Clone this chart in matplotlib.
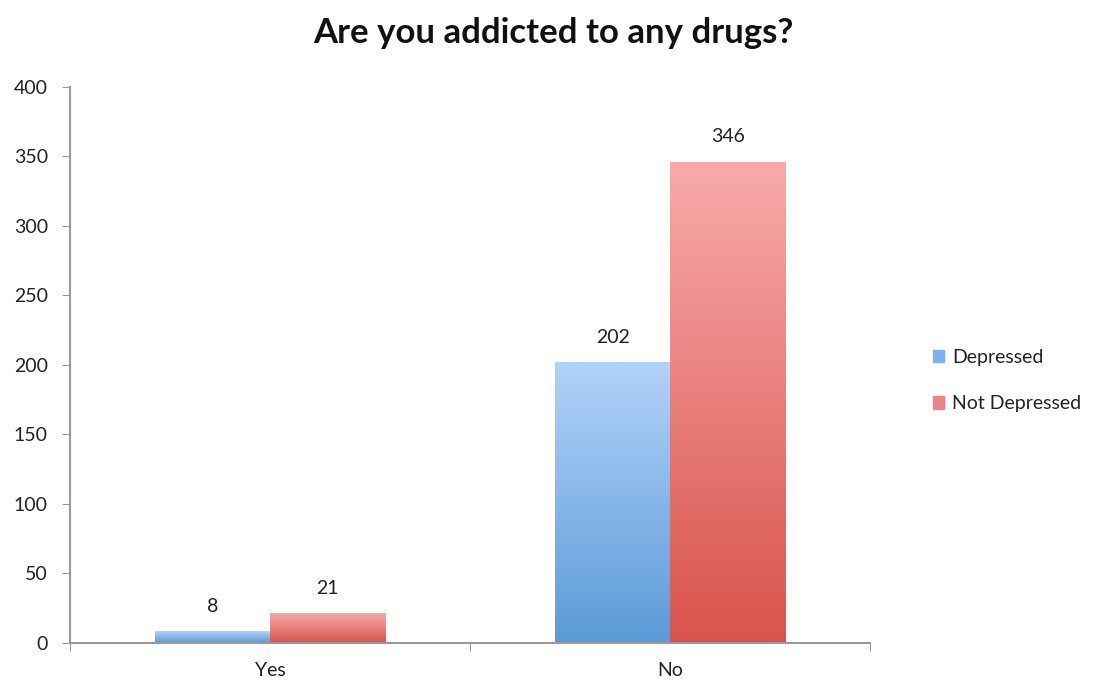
import numpy as np
import matplotlib
matplotlib.use("Agg")
import matplotlib.pyplot as plt
from matplotlib.colors import LinearSegmentedColormap
from matplotlib.patches import Rectangle

# %%
categories = ["Yes", "No"]
series_names = ["Depressed", "Not Depressed"]
depressed = [8, 202]
not_depressed = [21, 346]
y_ticks = [0, 50, 100, 150, 200, 250, 300, 350, 400]

# %%
plt.rcParams["font.family"] = ["Lato", "DejaVu Sans"]

blue_cmap = LinearSegmentedColormap.from_list("blue_grad", ["#5b9bd8", "#b2d2f9"])
red_cmap = LinearSegmentedColormap.from_list("red_grad", ["#d9534c", "#f8aaaa"])
legend_colors = ["#7fb2ec", "#ec8585"]

fig = plt.figure(figsize=(10.96, 6.86), dpi=100)
ax = fig.add_axes([0.0639, 0.0627, 0.73, 0.8105])

x = np.arange(len(categories))
width = 0.2875


def gradient_bar(ax, xc, h, w, cmap):
    grad = np.linspace(0, 1, 256).reshape(-1, 1)
    ax.imshow(grad, cmap=cmap, origin="lower", aspect="auto",
              extent=[xc - w / 2, xc + w / 2, 0, h], zorder=2)


for i in range(len(categories)):
    gradient_bar(ax, x[i] - width / 2, depressed[i], width, blue_cmap)
    gradient_bar(ax, x[i] + width / 2, not_depressed[i], width, red_cmap)
    ax.text(x[i] - width / 2, depressed[i] + 12, str(depressed[i]),
            ha="center", va="bottom", fontsize=14, color="#222222")
    ax.text(x[i] + width / 2, not_depressed[i] + 12, str(not_depressed[i]),
            ha="center", va="bottom", fontsize=14, color="#222222")

ax.set_xlim(-0.5, 1.5)
ax.set_ylim(0, 400)
ax.set_yticks(y_ticks)
ax.tick_params(axis="y", labelsize=14, length=6, color="#999999", pad=10,
               labelcolor="#222222")
ax.set_xticks([-0.5, 0.5, 1.5], minor=False)
ax.set_xticklabels(["", "", ""])
ax.set_xticks(x, minor=True)
ax.set_xticklabels(categories, minor=True)
ax.tick_params(axis="x", which="major", length=6, color="#999999")
ax.tick_params(axis="x", which="minor", length=0, labelsize=14, pad=14,
               labelcolor="#222222")

for side in ["top", "right"]:
    ax.spines[side].set_visible(False)
for side in ["left", "bottom"]:
    ax.spines[side].set_color("#999999")
    ax.spines[side].set_linewidth(1.5)

handles = [Rectangle((0, 0), 1, 1, color=c) for c in legend_colors]
fig.legend(handles, series_names, loc="center left", bbox_to_anchor=(0.835, 0.445),
           frameon=False, fontsize=14, handlelength=0.6, handleheight=0.6,
           handletextpad=0.4, labelspacing=1.5, labelcolor="#222222")

fig.suptitle("Are you addicted to any drugs?", x=0.505, y=0.975, fontsize=25,
             fontweight="bold", color="#111111")

fig.savefig("out.png", dpi=100)
